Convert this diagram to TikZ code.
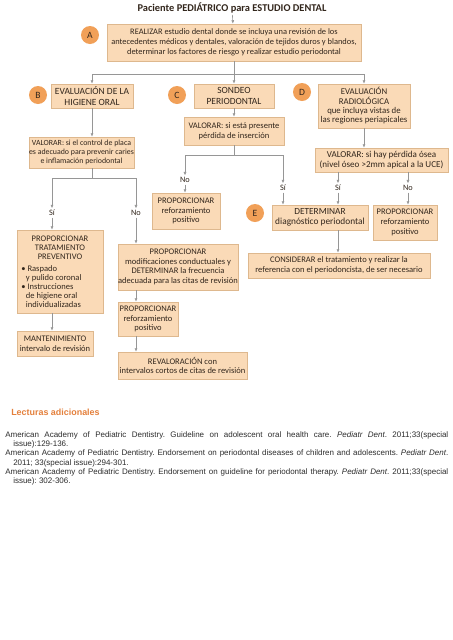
\documentclass[tikz,border=0pt]{standalone}
\usepackage{fontspec}
\setmainfont{Carlito}
\newfontfamily\arialf{Liberation Sans}
\usetikzlibrary{arrows.meta,shadows}
\definecolor{boxfill}{RGB}{250,218,183}
\definecolor{boxedge}{RGB}{222,184,142}
\definecolor{circfill}{RGB}{241,160,88}
\definecolor{boxtext}{RGB}{50,38,28}
\definecolor{linecol}{RGB}{150,150,150}
\definecolor{headorange}{RGB}{228,128,60}
\definecolor{reftext}{RGB}{45,45,45}
\begin{document}
\begin{tikzpicture}[x=0.75pt,y=-0.75pt,
  box/.style={draw=boxedge, line width=0.4pt, fill=boxfill, align=center, inner sep=0pt,
    text=boxtext, font=\fontsize{6.4}{7.2}\selectfont,
    drop shadow={shadow xshift=0.6pt,shadow yshift=-0.6pt,fill=black,opacity=0.15}},
  circ/.style={circle, fill=circfill, minimum size=13.5pt, inner sep=0pt, text=boxtext,
    font=\fontsize{7.2}{8}\selectfont},
  lbl/.style={inner sep=1.2pt, text=boxtext, font=\fontsize{6.2}{7}\selectfont},
  line/.style={draw=linecol, line width=0.45pt},
  arr/.style={line, -{Latex[length=2.6pt,width=2.2pt]}},
]
\useasboundingbox[fill=white] (0,0) rectangle (453,640);

% title and A
\node[font=\bfseries\fontsize{7.8}{9}\selectfont, text=boxtext, inner sep=1pt] (title) at (232,8)
  {Paciente PEDIÁTRICO para ESTUDIO DENTAL};
\node[box, minimum width=190.5pt, minimum height=27.75pt, font=\fontsize{6.3}{7.4}\selectfont] (A) at (234,42.5)
  {REALIZAR estudio dental donde se incluya una revisión de los\\
   antecedentes médicos y dentales, valoración de tejidos duros y blandos,\\
   determinar los factores de riesgo y realizar estudio periodontal};
\node[circ] (cA) at (90,35) {A};

% B C D
\node[box, minimum width=61.5pt, minimum height=18pt, font=\fontsize{7.1}{7.8}\selectfont] (B) at (92,96) {EVALUACIÓN DE LA\\HIGIENE ORAL};
\node[circ] (cB) at (38,95) {B};
\node[box, minimum width=60pt, minimum height=18pt, font=\fontsize{7.1}{7.8}\selectfont] (C) at (234,96) {SONDEO\\PERIODONTAL};
\node[circ] (cC) at (177,95) {C};
\node[box, minimum width=69pt, minimum height=33pt, font=\fontsize{6.6}{7}\selectfont] (D) at (364,106)
  {EVALUACIÓN\\RADIOLÓGICA\\que incluya vistas de\\las regiones periapicales};
\node[circ] (cD) at (302,92) {D};

\node[box, minimum width=77.25pt, minimum height=23.25pt, font=\fontsize{5.9}{7}\selectfont] (valB) at (81.5,152.5)
  {VALORAR: si el control de placa\\es adecuado para prevenir caries\\e inflamación periodontal};
\node[box, minimum width=75pt, minimum height=21pt] (valC) at (234,131)
  {VALORAR: si está presente\\pérdida de inserción};
\node[box, minimum width=99.75pt, minimum height=18pt, font=\fontsize{6.8}{7.4}\selectfont] (valD) at (381.5,160)
  {VALORAR: si hay pérdida ósea\\(nivel óseo >2mm apical a la UCE)};

% left column
\node[box, minimum width=64.5pt, minimum height=62.25pt] (trat) at (60,271.5)
  {\begin{minipage}{58pt}\fontsize{6.4}{6.8}\selectfont\centering PROPORCIONAR\\TRATAMIENTO\\PREVENTIVO\par\vspace{2pt}
   \raggedright •~Raspado\\\hspace*{3.5pt}y pulido coronal\\•~Instrucciones\\
   \hspace*{3.5pt}de higiene oral\\\hspace*{3.5pt}individualizadas\end{minipage}};
\node[box, minimum width=57pt, minimum height=18.75pt] (mant) at (55,343.5)
  {MANTENIMIENTO\\intervalo de revisión};
\node[box, minimum width=90pt, minimum height=34.5pt] (modif) at (178,267)
  {PROPORCIONAR\\modificaciones conductuales y\\DETERMINAR la frecuencia\\adecuada para las citas de revisión};
\node[box, minimum width=45pt, minimum height=25.5pt] (refB) at (148,319)
  {PROPORCIONAR\\reforzamiento\\positivo};
\node[box, minimum width=96.75pt, minimum height=20.25pt] (reval) at (182.5,365.5)
  {REVALORACIÓN con\\intervalos cortos de citas de revisión};

% middle / right
\node[box, minimum width=51pt, minimum height=27pt] (refC) at (186,211)
  {PROPORCIONAR\\reforzamiento\\positivo};
\node[box, minimum width=72pt, minimum height=18.75pt, font=\fontsize{7}{7.6}\selectfont] (det) at (320,217.5)
  {DETERMINAR\\diagnóstico periodontal};
\node[circ] (cE) at (255,213) {E};
\node[box, minimum width=48pt, minimum height=26.25pt] (refD) at (405,222.5)
  {PROPORCIONAR\\reforzamiento\\positivo};
\node[box, minimum width=136.5pt, minimum height=18.75pt] (cons) at (339,265.5)
  {CONSIDERAR el tratamiento y realizar la\\referencia con el periodoncista, de ser necesario};

% labels
\node[lbl] (siB) at (52,213) {Sí};
\node[lbl] (noB) at (136,213) {No};
\node[lbl] (noC) at (185,180) {No};
\node[lbl] (siC) at (283,188) {Sí};
\node[lbl] (siD) at (338,188) {Sí};
\node[lbl] (noD) at (408,188) {No};

% junction coordinates
\coordinate (jA) at (234,74);
\coordinate (jAB) at (92,74);
\coordinate (jAD) at (364,74);
\coordinate (jB) at (92,178);
\coordinate (jB1) at (52,178);
\coordinate (jB2) at (136,178);
\coordinate (jC) at (234,155);
\coordinate (jC1) at (185,155);
\coordinate (jC2) at (283,155);

% connectors
\draw[arr] (title) -- (A);
\draw[line] (A.south) -- (jA);
\draw[line] (jAB) -- (jAD);
\draw[arr] (jAB) -- (B.north -| jAB);
\draw[arr] (jA) -- (C.north);
\draw[arr] (jAD) -- (D.north);
\draw[arr] (B.south) -- (valB.north -| B.south);
\draw[arr] (C.south) -- (valC.north);
\draw[arr] (D.south) -- (valD.north -| D.south);

\draw[line] (valB.south -| jB) -- (jB);
\draw[line] (jB1) -- (jB2);
\draw[arr] (jB1) -- (siB.north);
\draw[arr] (siB.south) -- (trat.north -| siB.south);
\draw[arr] (jB2) -- (noB.north);
\draw[arr] (noB.south) -- (modif.north -| noB.south);
\draw[arr] (trat.south -| siB) -- (mant.north -| siB);
\draw[arr] (modif.south -| noB) -- (refB.north -| noB);
\draw[arr] (refB.south -| noB) -- (reval.north -| noB);

\draw[line] (valC.south) -- (jC);
\draw[line] (jC1) -- (jC2);
\draw[arr] (jC1) -- (noC.north);
\draw[arr] (noC.south) -- (refC.north -| noC.south);
\draw[arr] (jC2) -- (siC.north);
\draw[arr] (siC.south) -- (det.north -| siC.south);

\draw[arr] (valD.south -| siD) -- (siD.north);
\draw[arr] (siD.south) -- (det.north -| siD.south);
\draw[arr] (valD.south -| noD) -- (noD.north);
\draw[arr] (noD.south) -- (refD.north -| noD.south);
\draw[arr] (det.south -| siD) -- (cons.north -| siD);

% further reading
\node[anchor=west, inner sep=0pt, font=\arialf\bfseries\fontsize{6.7}{8}\selectfont, text=headorange]
  (lect) at (11,412) {Lecturas adicionales};
\node[anchor=north west, inner sep=0pt, text=reftext] (refs) at (5,431)
  {\parbox{332.25pt}{\arialf\fontsize{6}{7}\selectfont\frenchspacing\tolerance=10000\emergencystretch=20pt
   \hangindent=6pt\hangafter=1 American Academy of Pediatric Dentistry. Guideline on adolescent oral health care. \textit{Pediatr Dent}. 2011;33(special\linebreak issue):129-136.\par
   \hangindent=6pt\hangafter=1 American Academy of Pediatric Dentistry. Endorsement on periodontal diseases of children and adolescents. \textit{Pediatr Dent}.\linebreak 2011; 33(special issue):294-301.\par
   \hangindent=6pt\hangafter=1 American Academy of Pediatric Dentistry. Endorsement on guideline for periodontal therapy. \textit{Pediatr Dent}. 2011;33(special\linebreak issue): 302-306.}};
\end{tikzpicture}
\end{document}
